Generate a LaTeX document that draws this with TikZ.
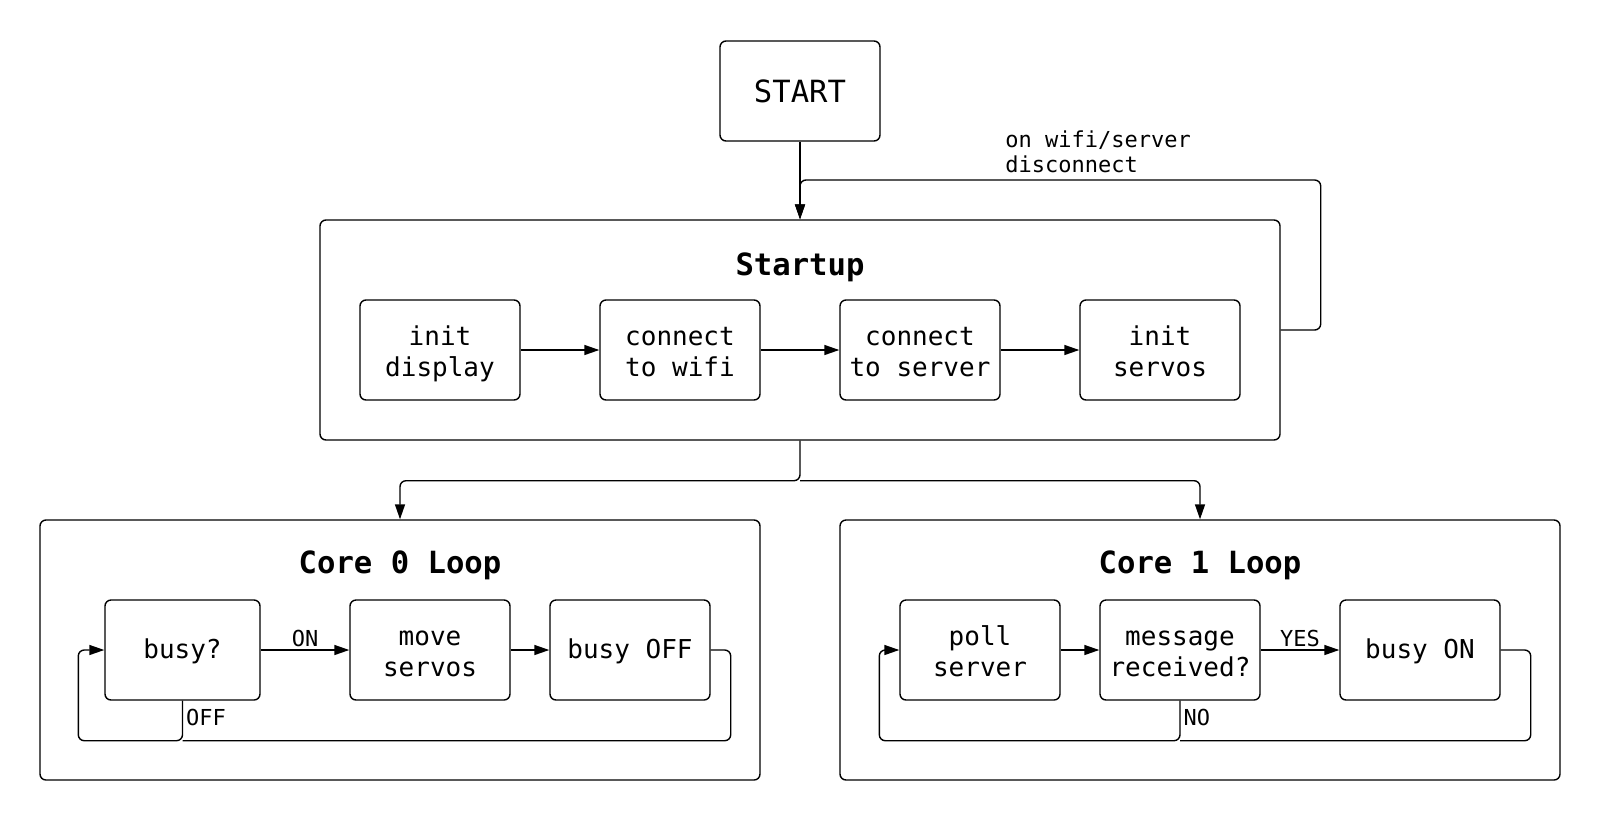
\documentclass[tikz,border=0pt]{standalone}
\usepackage{fontspec}
\setmainfont{DejaVu Sans Mono}
\usetikzlibrary{arrows.meta}
\newcommand{\tl}[1]{\strut#1}
\newcommand{\tlfirst}[1]{\rule{0pt}{15.8pt}\strut#1}
\newcommand{\tlone}[1]{\rule{0pt}{12.8pt}\strut#1}
\begin{document}
\begin{tikzpicture}[x=0.5pt,y=-0.5pt,
  box/.style={draw, rounded corners=3pt, line width=0.7pt, align=center, inner sep=0pt,
    minimum width=80pt, minimum height=50pt, font=\fontsize{13}{15.3}\selectfont},
  frame/.style={draw, rounded corners=3pt, line width=0.7pt, inner sep=0pt},
  ttl/.style={font=\fontsize{15.3}{18}\selectfont\bfseries, inner sep=0pt},
  lbl/.style={font=\fontsize{11}{12.5}\selectfont, inner sep=0pt},
  conn/.style={line width=0.7pt, -{Triangle[length=7.5pt,width=5pt]}},
  plain/.style={line width=0.7pt},
  rc/.style={rounded corners=3pt}
]
\useasboundingbox (0,0) rectangle (1600,820);

% START
\node[box, font=\fontsize{15.3}{18}\selectfont] (start) at (800,91) {START};

% Startup frame
\node[frame, minimum width=480pt, minimum height=110pt] (startup) at (800,330) {};
\node[ttl] (startupT) at (800,267) {Startup};
\node[box] (idisp) at (440,350) {\tlfirst{init}\\\tl{display}};
\node[box] (cwifi) at (680,350) {\tlfirst{connect}\\\tl{to wifi}};
\node[box] (cserv) at (920,350) {\tlfirst{connect}\\\tl{to server}};
\node[box] (iserv) at (1160,350) {\tlfirst{init}\\\tl{servos}};

% Core frames
\node[frame, minimum width=360pt, minimum height=130pt] (core0) at (400,650) {};
\node[ttl] (core0T) at (400,565) {Core 0 Loop};
\node[frame, minimum width=360pt, minimum height=130pt] (core1) at (1200,650) {};
\node[ttl] (core1T) at (1200,565) {Core 1 Loop};

% Core 0 boxes
\node[box, minimum width=77.5pt] (busy) at (182.5,650) {\tlone{busy?}};
\node[box] (move) at (430,650) {\tlfirst{move}\\\tl{servos}};
\node[box] (boff) at (630,650) {\tlone{busy OFF}};

% Core 1 boxes
\node[box] (poll) at (980,650) {\tlfirst{poll}\\\tl{server}};
\node[box] (msg) at (1180,650) {\tlfirst{message}\\\tl{received?}};
\node[box] (bon) at (1420,650) {\tlone{busy ON}};

% START -> Startup
\draw[conn] (start.south) -- (startup.north);
% feedback loop
\draw[conn, rc] (startup.east) -- ++(40,0) |- ++(-500,-150) -| (startup.north);
\node[lbl, anchor=west, align=left] (fbl) at (1005,152) {on wifi/server\\disconnect};

% Startup chain
\draw[conn] (idisp) -- (cwifi);
\draw[conn] (cwifi) -- (cserv);
\draw[conn] (cserv) -- (iserv);

% Split
\draw[conn, rc] (startup.south) -- ++(0,40) coordinate (split) -| (core0.north);
\draw[conn, rc] (split) -| (core1.north);

% Core 0 loop
\draw[conn] (busy) -- node[lbl, above=1.5pt] {ON} (move);
\draw[conn] (move) -- (boff);
\draw[conn, rc] (busy.south) -- node[lbl, anchor=west, xshift=1.5pt, yshift=1.5pt] {OFF} ++(0,40) coordinate (off0)
   -| ([xshift=-13pt]busy.west) -- (busy.west);
\draw[plain, rc] (boff.east) -- ++(20,0) |- (off0);

% Core 1 loop
\draw[conn] (poll) -- (msg);
\draw[conn] (msg) -- node[lbl, above=1.5pt] {YES} (bon);
\draw[conn, rc] (msg.south) -- node[lbl, anchor=west, xshift=1.5pt, yshift=1.5pt] {NO} ++(0,40) coordinate (no1)
   -| ([xshift=-10pt]poll.west) -- (poll.west);
\draw[plain, rc] (bon.east) -- ++(30,0) |- (no1);

\end{tikzpicture}
\end{document}
